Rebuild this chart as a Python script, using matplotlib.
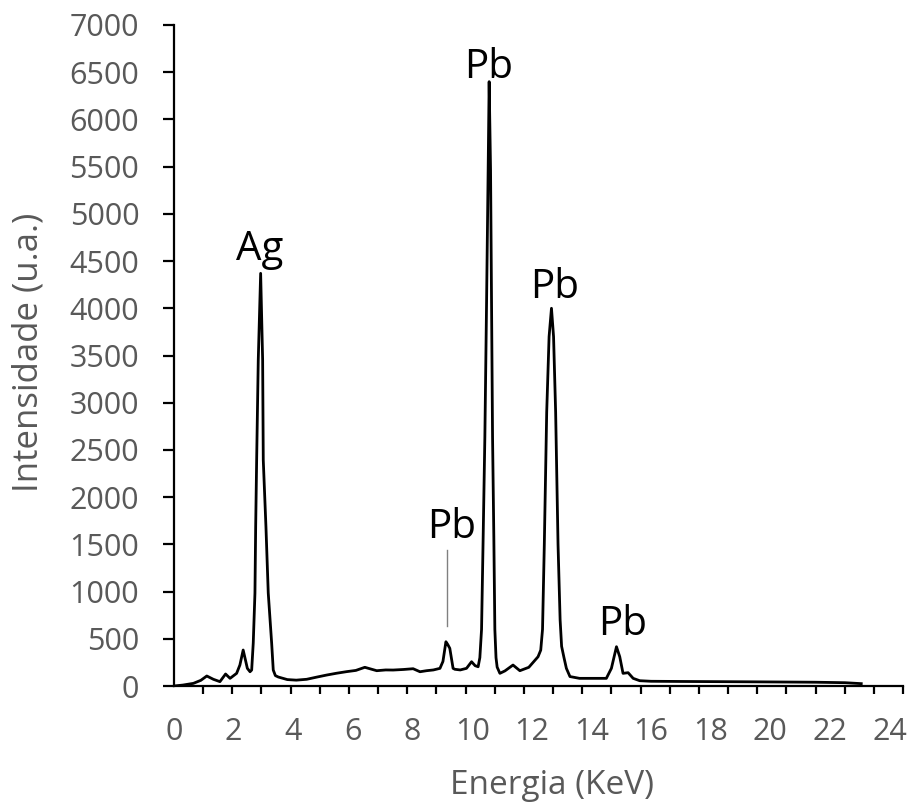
import matplotlib
matplotlib.use('Agg')
import matplotlib.pyplot as plt
import numpy as np

# espectro EDS (energia em keV, intensidade em u.a.)
energia = [0.00, 0.30, 0.65, 0.90, 1.10, 1.32, 1.54, 1.73, 1.88, 2.10,
           2.21, 2.32, 2.46, 2.55, 2.605, 2.658, 2.715, 2.739, 2.772, 2.826,
           2.906, 2.973, 2.994, 3.084, 3.161, 3.275, 3.329, 3.40, 3.50,
           3.80, 4.10, 4.45, 4.80, 5.12, 5.45, 5.79, 6.10, 6.40, 6.80,
           7.10, 7.35, 7.70, 8.02, 8.25, 8.47, 8.70, 8.92, 9.02, 9.12,
           9.18, 9.25, 9.36, 9.42, 9.60, 9.81, 9.98, 10.10, 10.20, 10.258,
           10.315, 10.369, 10.426, 10.483, 10.536, 10.57, 10.617, 10.65, 10.684, 10.727,
           10.761, 10.80, 10.838, 10.93, 11.10, 11.37, 11.60, 11.90, 12.21, 12.30,
           12.36, 12.42, 12.50, 12.58, 12.66, 12.73, 12.80, 12.88, 12.95, 13.00,
           13.08, 13.16, 13.28, 13.60, 14.06, 14.50, 14.67, 14.84, 14.95, 15.06,
           15.23, 15.40, 15.62, 16.00, 17.00, 18.30, 19.50, 20.50, 21.50, 22.50,
           23.05]
intensidade = [0, 10, 28, 60, 106, 71, 46, 127, 81, 134,
               222, 381, 187, 151, 169, 455, 985, 1684, 2393, 3452,
               4370, 3452, 2393, 1684, 985, 455, 169, 110, 95,
               68, 62, 71, 95, 116, 135, 152, 165, 198, 162,
               170, 169, 175, 183, 151, 162, 170, 187, 260, 469,
               440, 399, 187, 177, 170, 187, 257, 215, 204, 300,
               600, 1578, 2637, 4056, 5464, 6400, 5464, 4056, 2637, 1578,
               600, 300, 200, 134, 160, 222, 162, 198, 310, 380,
               600, 1500, 2900, 3700, 4000, 3700, 2900, 1500, 700, 420,
               300, 187, 100, 81, 81, 81, 187, 416, 310, 134,
               141, 81, 56, 50, 48, 46, 44, 42, 40, 35,
               25]

# rótulos dos picos: (texto, energia, intensidade)
picos = [('Ag', 2.88, 4620), ('Pb', 10.56, 6545), ('Pb', 12.77, 4215),
         ('Pb', 9.32, 1673), ('Pb', 15.05, 646)]

cinza = '#595959'
plt.rcParams['font.family'] = ['Open Sans', 'DejaVu Sans']

fig = plt.figure(figsize=(9.09, 8.11), dpi=100)
ax = fig.add_axes([174/909, 1-686/811, 729/909, 661/811])

ax.plot(energia, intensidade, color='black', lw=2.0)

ax.set_xlim(0, 24.45)
ax.set_ylim(0, 7000)
ax.set_yticks(np.arange(0, 7001, 500))
ax.set_xticks(np.arange(0, 25, 2))
ax.set_xticks(np.linspace(0, 24.45, 26), minor=True)

ax.spines['top'].set_visible(False)
ax.spines['right'].set_visible(False)
for s in ['left', 'bottom']:
    ax.spines[s].set_linewidth(1.6)

ax.tick_params(axis='y', direction='out', length=8, width=1.6,
               labelsize=22, labelcolor=cinza, pad=17)
ax.tick_params(axis='x', which='major', length=0, labelsize=22,
               labelcolor=cinza, pad=22)
ax.tick_params(axis='x', which='minor', direction='out', length=6, width=1.6)

ax.set_xlabel('Energia (KeV)', fontsize=24, color=cinza)
ax.set_ylabel('Intensidade (u.a.)', fontsize=25, color=cinza)
ax.xaxis.set_label_coords(0.5185, -0.150)
ax.xaxis.label.set_va('center')
ax.yaxis.set_label_coords(-0.200, 0.505)
ax.yaxis.label.set_va('center')

for txt, e, i in picos:
    ax.text(e, i, txt, fontsize=29, ha='center', va='center', color='black')

# linha indicadora do pico Pb em ~9.2 keV
ax.plot([9.15, 9.15], [635, 1440], color='#808080', lw=1)

fig.savefig('out.png', dpi=100)
